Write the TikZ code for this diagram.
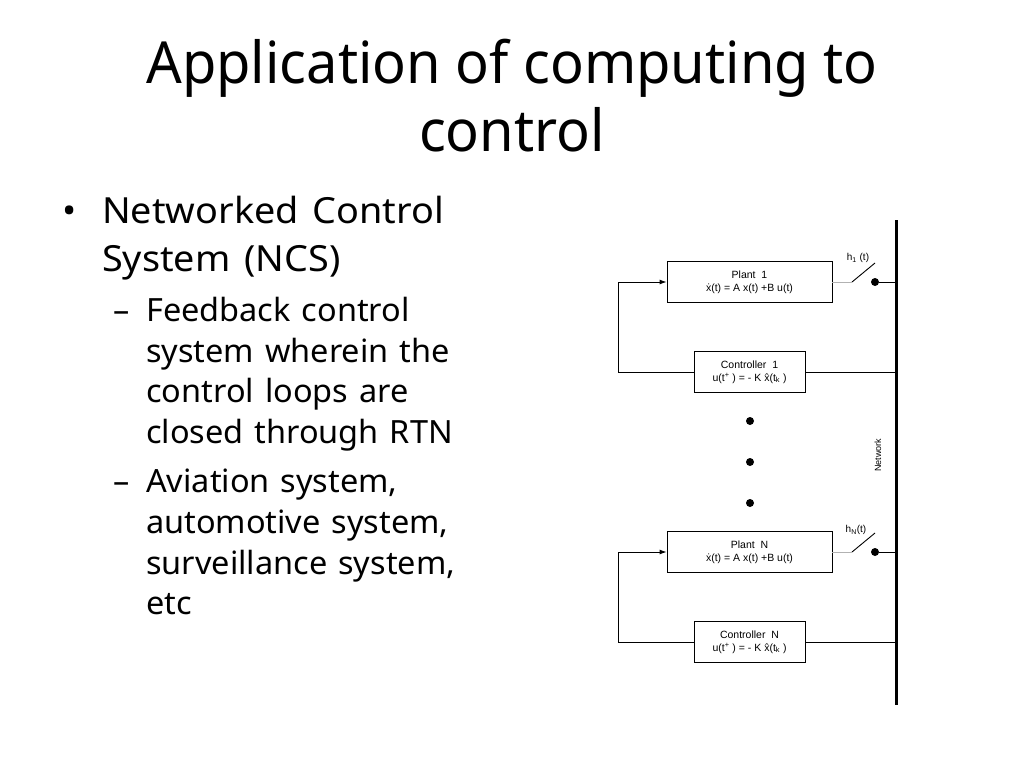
\documentclass[tikz,border=0pt]{standalone}
\usepackage{fontspec}
\setmainfont{Noto Sans}
\newfontfamily\diagfont{Liberation Sans}
\newfontfamily\titlefont[FakeStretch=0.965]{Noto Sans}
\newfontfamily\onefont[FakeStretch=1.05,WordSpace=1.4]{Noto Sans}
\newfontfamily\twofont[FakeStretch=1.015,WordSpace=1.3]{Noto Sans}
\usetikzlibrary{arrows.meta}
\begin{document}
\begin{tikzpicture}[x=1pt,y=-1pt,
  titletext/.style={anchor=base,inner sep=0pt,font=\titlefont\fontsize{58}{60}\selectfont},
  lvlone/.style={anchor=base west,inner sep=0pt,font=\onefont\fontsize{36}{40}\selectfont},
  lvltwo/.style={anchor=base west,inner sep=0pt,font=\twofont\fontsize{32}{36}\selectfont},
  blockbox/.style={draw,line width=0.9pt,inner sep=0pt,minimum height=41pt,align=center,
     font=\diagfont\fontsize{10.5}{12}\selectfont},
  wire/.style={line width=0.9pt},
  netdot/.style={circle,fill,inner sep=0pt,minimum size=8pt},
  smalllabel/.style={inner sep=0pt,font=\diagfont\fontsize{10}{12}\selectfont}
]
\useasboundingbox (0,0) rectangle (1024,768);
% title
\node[titletext] (t1) at (512,83) {Application of computing to};
\node[titletext] (t2) at (512,151) {control};
% bullets
\node[lvlone,anchor=base] (b1) at (70,223) {\textbullet};
\node[lvlone] (l1a) at (102,223) {Networked Control};
\node[lvlone] (l1b) at (102,271) {System (NCS)};
\node[lvltwo] (d1) at (113,321) {–};
\node[lvltwo] (l2a) at (146,321) {Feedback control};
\node[lvltwo] (l2b) at (146,362) {system wherein the};
\node[lvltwo] (l2c) at (146,402) {control loops are};
\node[lvltwo] (l2d) at (146,443) {closed through RTN};
\node[lvltwo] (d2) at (113,492) {–};
\node[lvltwo] (l3a) at (146,492) {Aviation system,};
\node[lvltwo] (l3b) at (146,533) {automotive system,};
\node[lvltwo] (l3c) at (146,574) {surveillance system,};
\node[lvltwo] (l3d) at (146,614) {etc};
% network
\coordinate (nt) at (896,220);
\coordinate (nb) at (896,705);
\draw[line width=3pt] (nt) -- (nb);
\node[smalllabel,rotate=90,font=\diagfont\fontsize{9}{10}\selectfont] (netl) at (878,455) {Network};
% loop 1
\node[blockbox,minimum width=165pt] (p1) at (749.5,282) {Plant~~1\\[1pt]\.x(t) = A x(t) +B u(t)};
\node[blockbox,minimum width=111pt] (c1) at (749.5,372) {Controller~~1\\[1pt]u(t\textsuperscript{+} ) = - K \^x(t\textsubscript{k} )};
\coordinate (lc1) at (618,372);
\draw[wire,-{Latex[length=7pt,width=5pt]}] (c1.west) -- (lc1) |- (p1.west);
\draw[wire] (c1.east) -- (c1.east -| nt);
\coordinate (s1a) at (852,282);
\coordinate (s1b) at (875,263);
\node[netdot] (dot1) at (875,282) {};
\draw[wire,gray!60] (p1.east) -- (s1a);
\draw[wire] (s1a) -- (s1b);
\draw[wire] (dot1) -- (dot1 -| nt);
\node[smalllabel] (h1) at (858,258) {h\textsubscript{1} (t)};
% dots
\node[netdot] (e1) at (750,421) {};
\node[netdot] (e2) at (750,462) {};
\node[netdot] (e3) at (750,503) {};
% loop N
\node[blockbox,minimum width=165pt] (pN) at (749.5,552) {Plant~~N\\[1pt]\.x(t) = A x(t) +B u(t)};
\node[blockbox,minimum width=111pt] (cN) at (749.5,642) {Controller~~N\\[1pt]u(t\textsuperscript{+} ) = - K \^x(t\textsubscript{k} )};
\coordinate (lcN) at (618,642);
\draw[wire,-{Latex[length=7pt,width=5pt]}] (cN.west) -- (lcN) |- (pN.west);
\draw[wire] (cN.east) -- (cN.east -| nt);
\coordinate (sNa) at (852,552);
\coordinate (sNb) at (875,533);
\node[netdot] (dotN) at (875,552) {};
\draw[wire,gray!60] (pN.east) -- (sNa);
\draw[wire] (sNa) -- (sNb);
\draw[wire] (dotN) -- (dotN -| nt);
\node[smalllabel] (hN) at (856,530) {h\textsubscript{N}(t)};
\end{tikzpicture}
\end{document}
